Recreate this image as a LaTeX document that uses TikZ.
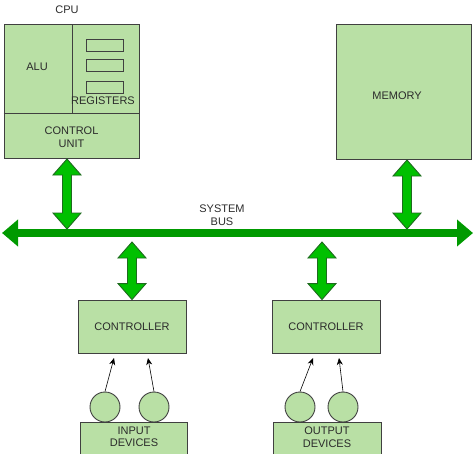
\documentclass[tikz,border=0pt]{standalone}
\usepackage{fontspec}
\setmainfont{Liberation Sans}
\usetikzlibrary{calc,arrows.meta}
\definecolor{boxfill}{HTML}{B9E0A5}
\definecolor{boxline}{HTML}{404040}
\definecolor{arrfill}{HTML}{00C000}
\definecolor{arrline}{HTML}{1F6B1F}
\definecolor{busgreen}{HTML}{009A00}
\definecolor{txt}{HTML}{2B2B2B}
\tikzset{
  box/.style={draw=boxline, fill=boxfill, line width=0.9pt, inner sep=0pt},
  lbl/.style={text=txt, font=\fontsize{11}{12.5}\selectfont, align=center, inner sep=0pt},
  reg/.style={draw=boxline, line width=0.9pt},
  blk/.style={draw=arrline, fill=arrfill, line width=0.9pt, line join=miter},
  dev/.style={draw=boxline, fill=boxfill, line width=0.9pt, circle, minimum size=30pt, inner sep=0pt},
  thin/.style={draw=black, line width=0.6pt, -{Stealth[length=7pt,width=6pt]}},
  bus/.style={draw=busgreen, line width=8pt, {Triangle[width=26pt,length=16pt]}-{Triangle[width=26pt,length=16pt]}}
}
\newcommand\vblk[2]{%
  \filldraw[blk] (#1) -- ($(#1)+(14,16)$) -- ($(#1)+(4.5,16)$) -- ($(#2)+(4.5,-16)$) -- ($(#2)+(14,-16)$) -- (#2) -- ($(#2)+(-14,-16)$) -- ($(#2)+(-4.5,-16)$) -- ($(#1)+(-4.5,16)$) -- ($(#1)+(-14,16)$) -- cycle;}
\begin{document}
\begin{tikzpicture}[x=1pt,y=-1pt]
\useasboundingbox (0,0) rectangle (474,453);
% CPU
\node[lbl] (cpulbl) at (67,10) {CPU};
\node[box, minimum width=135pt, minimum height=134pt] (cpu) at (71.5,91) {};
\draw[reg] (72,24) -- (72,113);
\draw[reg] (cpu.west |- 0,113) -- (cpu.east |- 0,113);
\node[lbl] (alu) at (37,67) {ALU};
\node[reg, minimum width=37pt, minimum height=12pt, inner sep=0pt] (r1) at (104.5,45) {};
\node[reg, minimum width=37pt, minimum height=12pt, inner sep=0pt] (r2) at (104.5,65) {};
\node[reg, minimum width=37pt, minimum height=12pt, inner sep=0pt] (r3) at (104.5,87) {};
\node[lbl] (regs) at (103,101) {REGISTERS};
\node[lbl] (cu) at (71.5,137) {CONTROL\\UNIT};
% Memory
\node[box, minimum width=135pt, minimum height=135pt] (mem) at (403.5,91.5) {};
\node[lbl] (meml) at (397,96) {MEMORY};
% Bus
\coordinate (busL) at (2,233);
\coordinate (busR) at (473,233);
\draw[bus] (busL) -- (busR);
\node[lbl] (busl) at (222,215) {SYSTEM\\BUS};
% Controllers
\node[box, minimum width=108pt, minimum height=53pt] (c1) at (132,326.5) {};
\node[lbl] at (c1) {CONTROLLER};
\node[box, minimum width=108pt, minimum height=53pt] (c2) at (326,326.5) {};
\node[lbl] at (c2) {CONTROLLER};
% Block arrows
\coordinate (a1t) at (67,159);  \coordinate (a1b) at (67,229);
\coordinate (a2t) at (407,160); \coordinate (a2b) at (407,229);
\coordinate (a3t) at (132,242); \coordinate (a3b) at (c1.north);
\coordinate (a4t) at (322,242); \coordinate (a4b) at (c2.north -| 322,0);
\vblk{a1t}{a1b}
\vblk{a2t}{a2b}
\vblk{a3t}{a3b}
\vblk{a4t}{a4b}
% Devices
\node[box, minimum width=107pt, minimum height=40pt, anchor=north west] (inb) at (80,422) {};
\node[lbl] at (134,437) {INPUT\\DEVICES};
\node[box, minimum width=108pt, minimum height=40pt, anchor=north west] (outb) at (273,422) {};
\node[lbl] at (327,437) {OUTPUT\\DEVICES};
\node[dev] (d1) at (105,407) {};
\node[dev] (d2) at (154,407) {};
\node[dev] (d3) at (300,407) {};
\node[dev] (d4) at (343,407) {};
\coordinate (e1) at (114,358);
\coordinate (e2) at (148,358);
\coordinate (e3) at (313,358);
\coordinate (e4) at (339,358);
\draw[thin] (d1.north) -- (e1);
\draw[thin] (d2.north) -- (e2);
\draw[thin] (d3.north) -- (e3);
\draw[thin] (d4.north) -- (e4);
\end{tikzpicture}
\end{document}
